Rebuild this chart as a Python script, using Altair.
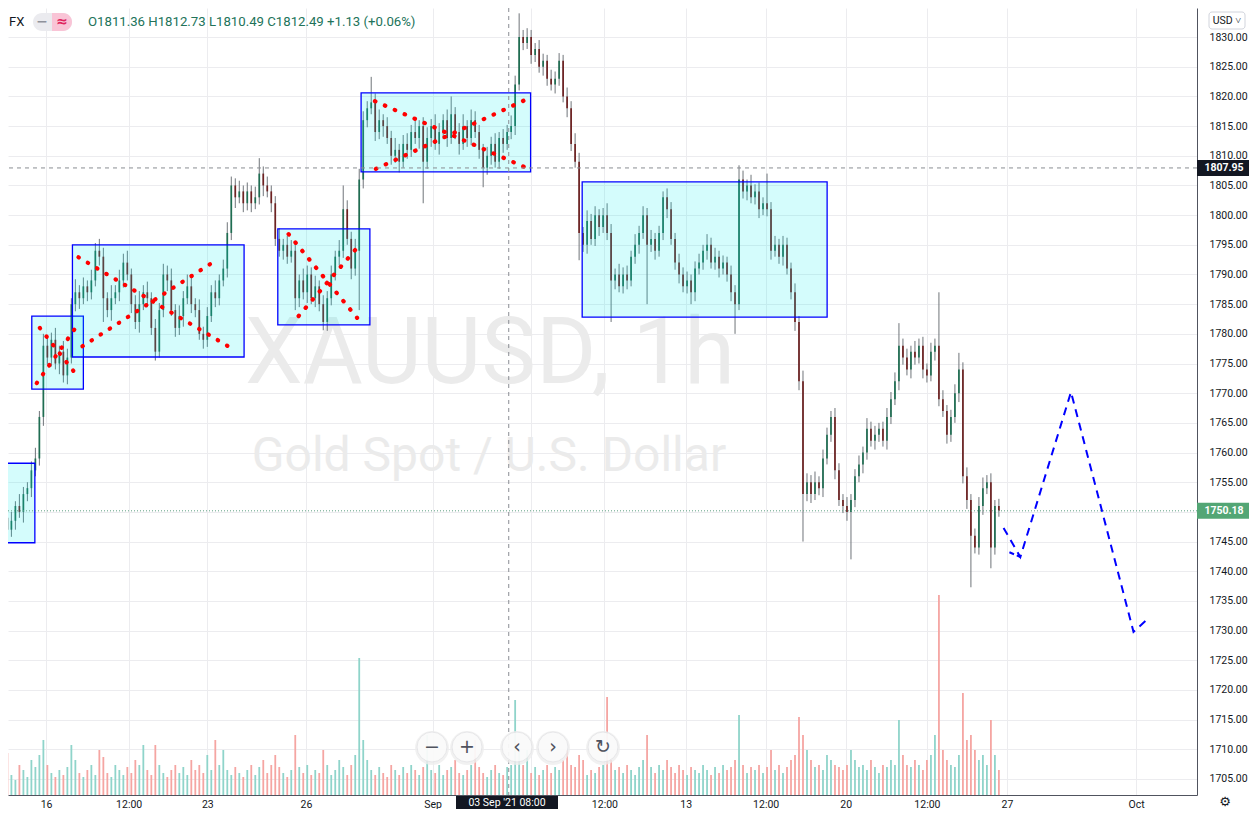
import altair as alt
import pandas as pd

# ---------------- data ----------------
T0 = -28          # time of first candle, trading hours since 16 Aug 00:00
STEP = 3          # hours per candle
first_open = 1749.0

closes = [
    1747, 1748.5, 1751, 1750, 1753, 1754, 1757, 1759, 1766, 1778,
    1776, 1779, 1775, 1777, 1773, 1776, 1785, 1787, 1786, 1788,
    1787, 1789, 1794, 1793, 1786, 1784, 1786, 1787, 1789, 1792,
    1790, 1785, 1782, 1785, 1787, 1786, 1781, 1777, 1784, 1790,
    1789, 1784, 1781, 1783, 1786, 1788, 1785, 1784, 1780, 1779,
    1783, 1787, 1786, 1789, 1791, 1797, 1805, 1803, 1804, 1802,
    1804, 1802, 1803, 1807, 1805, 1804, 1802, 1796, 1794, 1795,
    1793, 1794, 1786, 1789, 1787, 1790, 1786, 1788, 1785, 1782,
    1786, 1790, 1793, 1794, 1801, 1796, 1791, 1794, 1806, 1816,
    1818, 1819, 1814, 1816, 1815, 1813, 1810, 1811, 1809, 1812,
    1811, 1814, 1813, 1815, 1809, 1813, 1815, 1812, 1814, 1816,
    1813, 1817, 1814, 1812, 1815, 1813, 1816, 1814, 1811, 1808,
    1810, 1812, 1809, 1813, 1812, 1814, 1815, 1822, 1830, 1829,
    1830, 1827, 1828, 1825, 1826, 1823, 1822, 1823, 1826, 1820,
    1818, 1812, 1809, 1797, 1795, 1799, 1796, 1800, 1798, 1800,
    1797, 1789, 1790, 1788, 1790, 1789, 1793, 1795, 1797, 1800,
    1795, 1796, 1794, 1797, 1803, 1801, 1796, 1792, 1790, 1788,
    1789, 1787, 1791, 1792, 1794, 1795, 1792, 1793, 1791, 1792,
    1790, 1787, 1785, 1806, 1804, 1805, 1803, 1804, 1801, 1802,
    1801, 1794, 1795, 1793, 1795, 1791, 1787, 1782, 1772, 1753,
    1755, 1753, 1755, 1754, 1759, 1763, 1766, 1757, 1752, 1751,
    1750, 1752, 1756, 1758, 1760, 1764, 1762, 1763, 1764, 1762,
    1766, 1769, 1772, 1778, 1776, 1774, 1777, 1776, 1778, 1774,
    1773, 1777, 1778, 1769, 1767, 1763, 1766, 1770, 1774, 1756,
    1752, 1746, 1744, 1751, 1754, 1755, 1744, 1751, 1750.18,
]

wick_up = [
    1.0, 1.5, 0.8, 2.0, 1.2, 1.0, 1.5, 1.8, 1.0, 2.0,
    1.5, 1.2, 2.0, 1.0, 1.8, 1.5, 1.0, 2.2, 1.2, 1.5,
    1.0, 1.8, 1.3, 2.0, 1.5, 1.0, 2.2, 1.2, 1.8, 1.5,
    2.0, 1.0, 1.5, 2.2, 1.2, 1.8, 1.0, 1.5, 1.2, 1.8,
    1.5, 2.0, 1.0, 1.8, 1.2, 2.0, 1.5, 1.0, 1.8, 1.2,
    1.5, 1.2, 2.0, 1.0, 1.5, 1.8, 1.5, 1.2, 1.8, 1.0,
    1.5, 1.0, 1.8, 2.6, 1.2, 1.5, 1.0, 1.2, 1.8, 1.0,
    1.5, 1.8, 1.2, 1.0, 2.0, 1.5, 1.2, 1.8, 1.0, 1.5,
    1.2, 1.5, 1.0, 1.8, 4.0, 1.5, 1.2, 2.0, 1.8, 1.5,
    1.2, 4.3, 1.5, 1.8, 1.0, 1.5, 1.2, 2.0, 1.0, 1.5,
    1.8, 1.2, 2.2, 1.0, 1.5, 1.8, 1.2, 2.0, 1.5, 1.0,
    1.8, 3.0, 1.2, 1.5, 2.0, 1.0, 1.8, 1.5, 1.2, 1.0,
    1.5, 1.2, 1.8, 1.0, 1.5, 1.2, 1.8, 1.5, 4.0, 1.2,
    1.5, 1.2, 1.0, 1.5, 1.2, 1.0, 1.5, 1.2, 1.3, 1.0,
    1.5, 1.2, 1.8, 1.5, 1.0, 1.8, 1.2, 1.5, 1.0, 1.2,
    2.0, 1.5, 1.0, 1.8, 1.2, 1.5, 1.0, 1.8, 1.2, 1.5,
    1.2, 1.5, 1.0, 1.2, 1.0, 1.5, 1.2, 1.0, 1.5, 1.2,
    1.5, 1.0, 1.2, 1.5, 1.0, 1.8, 1.2, 1.5, 1.0, 1.2,
    1.0, 1.5, 1.2, 2.4, 1.5, 1.0, 1.8, 1.2, 1.5, 1.0,
    5.0, 1.2, 1.5, 1.0, 1.5, 1.2, 1.0, 1.5, 1.0, 1.8,
    1.5, 1.2, 1.8, 1.0, 1.5, 1.2, 1.0, 1.5, 1.2, 1.0,
    1.5, 1.0, 1.2, 1.5, 1.0, 1.8, 1.2, 1.5, 1.0, 1.2,
    1.5, 1.2, 1.5, 3.8, 1.2, 1.5, 1.0, 1.8, 1.2, 1.5,
    1.0, 1.5, 1.2, 9.0, 1.5, 1.0, 1.2, 1.5, 2.8, 1.2,
    1.5, 1.0, 1.2, 1.5, 1.8, 1.2, 1.5, 1.0, 1.2,
]

wick_dn = [
    5.0, 1.2, 1.5, 1.0, 1.8, 1.2, 1.5, 1.0, 1.2, 1.5,
    1.2, 1.5, 1.0, 1.8, 1.2, 1.5, 1.0, 1.2, 1.8, 1.0,
    1.5, 1.2, 1.0, 1.5, 4.0, 1.2, 1.8, 1.0, 1.5, 1.2,
    1.0, 1.5, 1.2, 1.8, 1.0, 1.5, 1.2, 1.5, 1.0, 1.2,
    1.8, 1.0, 1.5, 1.2, 1.8, 1.0, 1.5, 1.2, 1.0, 1.5,
    1.2, 1.0, 1.5, 1.2, 1.0, 1.5, 1.2, 1.8, 1.0, 1.5,
    1.2, 1.5, 1.0, 1.2, 1.8, 1.0, 1.5, 1.2, 1.0, 1.5,
    1.2, 1.0, 2.0, 1.5, 1.2, 1.8, 1.0, 1.5, 1.2, 1.4,
    1.5, 1.2, 1.0, 1.5, 1.2, 1.0, 1.8, 1.2, 10.0, 1.5,
    1.2, 1.0, 1.5, 1.2, 1.8, 1.0, 1.5, 1.2, 1.8, 1.0,
    1.5, 1.2, 1.0, 1.8, 7.0, 1.2, 1.5, 1.0, 1.8, 1.2,
    1.5, 1.0, 1.2, 1.8, 1.0, 1.5, 1.2, 1.0, 1.5, 3.3,
    1.2, 1.5, 1.0, 1.2, 1.5, 1.0, 1.2, 1.5, 1.0, 1.2,
    1.0, 1.5, 1.2, 1.0, 1.5, 1.2, 1.0, 1.5, 1.2, 1.0,
    1.5, 1.2, 1.0, 4.6, 1.2, 1.5, 1.0, 1.2, 1.5, 1.0,
    1.2, 7.0, 1.5, 1.0, 1.2, 1.5, 1.0, 1.2, 1.5, 1.0,
    10.0, 1.2, 1.5, 1.0, 1.2, 1.5, 1.0, 1.2, 1.5, 1.0,
    1.2, 2.0, 1.5, 1.0, 1.2, 1.5, 1.0, 1.2, 1.5, 1.0,
    1.2, 1.5, 5.0, 1.0, 1.2, 1.5, 1.0, 1.2, 1.5, 1.0,
    1.2, 1.5, 1.0, 1.2, 1.5, 1.0, 1.2, 1.5, 1.5, 8.0,
    1.2, 1.5, 1.0, 1.2, 1.5, 1.0, 1.2, 1.5, 1.0, 1.2,
    1.5, 8.0, 1.2, 1.0, 1.5, 1.2, 1.0, 1.5, 1.2, 1.0,
    1.5, 1.2, 1.0, 1.5, 1.2, 1.0, 1.5, 1.2, 1.0, 1.5,
    1.2, 1.0, 1.5, 1.2, 1.0, 1.5, 1.2, 1.0, 1.5, 1.2,
    1.5, 8.7, 1.0, 1.2, 1.5, 1.0, 3.5, 1.2, 1.0,
]

volumes = [
    42, 20, 15, 30, 25, 18, 35, 28, 40, 55,
    30, 22, 18, 25, 20, 28, 50, 35, 22, 18,
    25, 30, 20, 45, 38, 22, 18, 30, 25, 20,
    28, 22, 35, 30, 50, 25, 20, 50, 30, 22,
    18, 25, 30, 22, 28, 20, 35, 25, 30, 22,
    40, 25, 55, 30, 45, 25, 20, 28, 22, 18,
    25, 30, 20, 28, 35, 22, 30, 40, 28, 22,
    18, 25, 60, 28, 22, 30, 20, 25, 22, 45,
    30, 20, 25, 35, 28, 20, 30, 40, 137, 55,
    35, 25, 20, 28, 22, 18, 30, 25, 20, 28,
    22, 30, 25, 20, 28, 60, 25, 22, 30, 20,
    25, 28, 35, 22, 20, 25, 30, 55, 28, 22,
    18, 25, 30, 22, 20, 28, 30, 95, 45, 30,
    45, 22, 28, 20, 25, 30, 22, 28, 25, 35,
    45, 30, 28, 40, 35, 20, 25, 22, 28, 30,
    98, 35, 25, 28, 22, 30, 25, 20, 28, 35,
    60, 28, 22, 30, 25, 35, 28, 22, 30, 25,
    20, 28, 25, 22, 30, 25, 20, 28, 22, 30,
    25, 28, 35, 80, 30, 22, 28, 25, 30, 22,
    28, 45, 25, 30, 22, 28, 35, 40, 78, 60,
    45, 35, 28, 30, 25, 40, 35, 30, 28, 25,
    30, 45, 35, 28, 30, 25, 35, 28, 22, 30,
    28, 35, 30, 75, 40, 30, 28, 35, 30, 25,
    35, 40, 60, 200, 45, 35, 30, 28, 40, 102,
    55, 60, 45, 35, 40, 30, 75, 40, 25,
]

# x-axis ticks (trading hours) and their labels
tick_t = [1, 63, 122, 196, 291, 365, 420, 481, 541, 601, 662, 722, 819]
tick_labels = ["16", "12:00", "23", "26", "Sep", "", "12:00", "13", "12:00",
               "20", "12:00", "27", "Oct"]
price_ticks = [1705, 1710, 1715, 1720, 1725, 1730, 1735, 1740, 1745, 1750,
               1755, 1760, 1765, 1770, 1775, 1780, 1785, 1790, 1795, 1800,
               1805, 1810, 1815, 1820, 1825, 1830, 1835]

# consolidation boxes
box_t0 = [-40, -9.7, 20.8, 174.9, 237.4, 403.3]
box_t1 = [-7.4, 29.0, 149.6, 244.0, 364.6, 587.1]
box_top = [1758.2, 1783.0, 1795.0, 1797.7, 1820.6, 1805.6]
box_bot = [1744.8, 1770.7, 1776.1, 1781.5, 1807.3, 1782.8]

# red dotted crosses
cross_t0 = [-6.0, -3.7, 25.3, 28.3, 183.0, 190.5, 247.8, 248.5]
cross_p0 = [1771.7, 1781.0, 1792.9, 1777.9, 1796.8, 1783.0, 1819.2, 1807.8]
cross_t1 = [25.3, 23.8, 139.9, 126.5, 234.4, 237.4, 363.1, 362.4]
cross_p1 = [1781.7, 1773.1, 1777.6, 1792.1, 1782.7, 1795.3, 1807.8, 1819.6]

# blue dashed projection
proj_t = [719.5, 732.1, 770.1, 817.0, 825.9]
proj_p = [1747.3, 1742.4, 1770.2, 1729.8, 1731.6]
arrow_t = [723.9, 732.1]
arrow_p = [1743.2, 1742.4]

crosshair_t = 348.2
crosshair_price = 1807.95
last_price = 1750.18

header = "O1811.36  H1812.73  L1810.49  C1812.49  +1.13 (+0.06%)"

# ---------------- tables ----------------
opens = [first_open] + closes[:-1]
rows = []
for i, (o, c, u, d, v) in enumerate(zip(opens, closes, wick_up, wick_dn, volumes)):
    up = c >= o
    rows.append({
        "t": T0 + STEP * i, "o": o, "c": c,
        "h": max(o, c) + u, "l": min(o, c) - d, "v": v,
        "bc": "#1f6e52" if up else "#6e2222",
        "vc": "#8fd4ca" if up else "#f5a5a2",
    })
candles = pd.DataFrame(rows)
boxes = pd.DataFrame({"t0": box_t0, "t1": box_t1, "top": box_top, "bot": box_bot})
crosses = pd.DataFrame({"t0": cross_t0, "p0": cross_p0, "t1": cross_t1, "p1": cross_p1})
proj = pd.DataFrame({"t": proj_t, "p": proj_p, "k": list(range(len(proj_t)))})
arrow = pd.DataFrame({"t": arrow_t, "p": arrow_p, "k": [0, 1]})

XD = [-23.8, 860.9]
YD = [1702.3, 1834.9]
W, H = 1189, 787

label_expr = "".join(f"datum.value == {t} ? '{l}' : " for t, l in zip(tick_t, tick_labels)) + "''"

xs = alt.Scale(domain=XD, nice=False, zero=False)
ys = alt.Scale(domain=YD, nice=False, zero=False)

x_axis = alt.Axis(values=tick_t, labelExpr=label_expr, grid=True, gridColor="#ececef",
                  ticks=False, domainColor="#50535e", labelColor="#131722",
                  labelFont="Roboto", labelFontSize=10.5, labelPadding=4,
                  labelOverlap=False, labelFlush=False, title=None)
# the last-price tag covers the 1750.00 label
y_axis = alt.Axis(values=price_ticks, format=".2f", orient="right", grid=True,
                  gridColor="#ececef", ticks=False, domainColor="#50535e",
                  labelColor="#131722", labelFont="Roboto", labelFontSize=10.5,
                  labelPadding=12, labelOverlap=False, labelFlush=False,
                  labelSeparation=0, title=None,
                  labelExpr=f"abs(datum.value - {last_price}) < 1.5 ? '' : datum.label")

def X(f):
    return alt.X(f, type="quantitative", scale=xs, axis=x_axis)

def Y(f):
    return alt.Y(f, type="quantitative", scale=ys, axis=y_axis)

one = pd.DataFrame({"a": [0]})

# watermark
wm1 = alt.Chart(pd.DataFrame({"s": ["XAUUSD, 1h"]})).mark_text(
    font="Roboto", fontSize=92, color="#ebebeb", align="center", baseline="middle"
).encode(x=alt.value(482), y=alt.value(347), text="s:N")
wm2 = alt.Chart(pd.DataFrame({"s": ["Gold Spot / U.S. Dollar"]})).mark_text(
    font="Roboto", fontSize=48, color="#ebebeb", align="center", baseline="middle"
).encode(x=alt.value(481), y=alt.value(449), text="s:N")

wick = alt.Chart(candles).mark_rule(color="#6f7479", strokeWidth=1, clip=True).encode(
    x=X("t"), y=Y("l"), y2="h")
body = alt.Chart(candles).mark_rule(strokeWidth=1.7, clip=True).encode(
    x=X("t"), y=Y("o"), y2="c", color=alt.Color("bc:N", scale=None))

box_layer = alt.Chart(boxes).mark_rect(fill="#00f0f0", fillOpacity=0.17, stroke="#0000ff",
                                       strokeWidth=1.3, clip=True).encode(
    x=X("t0"), x2="t1", y=Y("top"), y2="bot")

cross_layer = alt.Chart(crosses).mark_rule(color="#ff0000", strokeWidth=4.2, strokeCap="round",
                                           strokeDash=[0.5, 10.3], clip=True).encode(
    x=X("t0"), x2="t1", y=Y("p0"), y2="p1")

vline = alt.Chart(pd.DataFrame({"t": [crosshair_t]})).mark_rule(
    color="#8a8d93", strokeDash=[4, 4], strokeWidth=1).encode(x=X("t"))
hline = alt.Chart(pd.DataFrame({"p": [crosshair_price]})).mark_rule(
    color="#8a8d93", strokeDash=[4, 4], strokeWidth=1).encode(y=Y("p"))
lastline = alt.Chart(pd.DataFrame({"p": [last_price]})).mark_rule(
    color="#5c9e80", strokeDash=[1, 2], strokeWidth=1).encode(y=Y("p"))

proj_layer = alt.Chart(proj).mark_line(color="#0000ff", strokeWidth=2, strokeDash=[8, 6],
                                       clip=False).encode(x=X("t"), y=Y("p"), order="k:Q")
arrow_layer = alt.Chart(arrow).mark_line(color="#0000ff", strokeWidth=2, strokeDash=[5, 3]).encode(
    x=X("t"), y=Y("p"), order="k:Q")

# price tags on the right axis
tags = pd.DataFrame({"p": [crosshair_price, last_price],
                     "s": [f"{crosshair_price:.2f}", f"{last_price:.2f}"],
                     "col": ["#131722", "#53a675"]})
tag_bg = alt.Chart(tags).mark_rule(strokeWidth=16, clip=False).encode(
    y=Y("p"), x=alt.value(W), x2=alt.value(W + 52), color=alt.Color("col:N", scale=None))
tag_tx = alt.Chart(tags).mark_text(color="white", font="Roboto", fontSize=10.5,
                                   fontWeight="bold", align="center", baseline="middle").encode(
    y=Y("p"), x=alt.value(W + 27), text="s:N")

price_part = alt.layer(wm1, wm2, wick, body, box_layer, cross_layer, vline, hline, lastline,
                       proj_layer, arrow_layer, tag_bg, tag_tx)

vol = alt.Chart(candles).mark_bar(size=1.8, clip=True).encode(
    x=X("t"),
    y=alt.Y("v:Q", scale=alt.Scale(domain=[0, 787], nice=False), axis=None),
    color=alt.Color("vc:N", scale=None))

# ------------- interface decorations -------------
btn = pd.DataFrame({"bx": [424, 459, 509, 545, 595], "g": ["−", "+", "‹", "›", "↻"]})
btn_shadow = alt.Chart(btn).mark_point(filled=True, size=1150, color="#eeeeee", opacity=0.8,
                                       shape="circle").encode(x=alt.X("bx:Q", scale=None), y=alt.value(740))
btn_circ = alt.Chart(btn).mark_point(filled=True, size=900, color="white", shape="circle",
                                     stroke="#e3e3e6", strokeWidth=1).encode(
    x=alt.X("bx:Q", scale=None), y=alt.value(739))
btn_txt = alt.Chart(btn).mark_text(font="DejaVu Sans", fontSize=19, color="#50535e",
                                   align="center", baseline="middle").encode(
    x=alt.X("bx:Q", scale=None), y=alt.value(739), text="g:N")

pill_g = alt.Chart(one).mark_rect(color="#ebebef", cornerRadius=9).encode(
    x=alt.value(25), x2=alt.value(64), y=alt.value(5), y2=alt.value(23))
pill_p = alt.Chart(one).mark_rect(color="#f9c4d6", cornerRadius=9).encode(
    x=alt.value(44), x2=alt.value(64), y=alt.value(5), y2=alt.value(23))
pill_p2 = alt.Chart(one).mark_rect(color="#f9c4d6").encode(
    x=alt.value(44), x2=alt.value(54), y=alt.value(5), y2=alt.value(23))
pill_t = alt.Chart(pd.DataFrame({"px": [34, 54], "g": ["−", "≈"], "c": ["#8f929b", "#e0245e"]})).mark_text(
    font="DejaVu Sans", fontSize=14, fontWeight="bold", align="center", baseline="middle").encode(
    x=alt.X("px:Q", scale=None), y=alt.value(14), text="g:N", color=alt.Color("c:N", scale=None))
fx = alt.Chart(pd.DataFrame({"s": ["FX"]})).mark_text(
    font="Roboto", fontSize=13, color="#131722", align="left", baseline="middle").encode(
    x=alt.value(1), y=alt.value(14), text="s:N")
head = alt.Chart(pd.DataFrame({"s": [header]})).mark_text(
    font="Roboto", fontSize=13.2, color="#22735a", align="left", baseline="middle").encode(
    x=alt.value(80), y=alt.value(14), text="s:N")

date_bg = alt.Chart(one).mark_rect(color="#131722").encode(
    x=alt.value(448), x2=alt.value(550), y=alt.value(788), y2=alt.value(812))
date_tx = alt.Chart(pd.DataFrame({"s": ["03 Sep '21  08:00"]})).mark_text(
    font="Roboto", fontSize=10.5, color="white", align="center", baseline="middle").encode(
    x=alt.value(499), y=alt.value(794.5), text="s:N")

usd_bg = alt.Chart(one).mark_rect(fill="white", stroke="#d1d4dc", cornerRadius=3).encode(
    x=alt.value(W + 12), x2=alt.value(W + 48), y=alt.value(4), y2=alt.value(21))
usd_tx = alt.Chart(pd.DataFrame({"s": ["USD ˅"]})).mark_text(
    font="Roboto", fontSize=10.5, color="#131722", align="center", baseline="middle").encode(
    x=alt.value(W + 30), y=alt.value(13), text="s:N")
gear = alt.Chart(pd.DataFrame({"s": ["⚙"]})).mark_text(
    font="DejaVu Sans", fontSize=13, color="#131722", align="center", baseline="middle").encode(
    x=alt.value(W + 28), y=alt.value(793.5), text="s:N")

deco = alt.layer(btn_shadow, btn_circ, btn_txt, pill_g, pill_p, pill_p2, pill_t, fx, head,
                 date_bg, date_tx, usd_bg, usd_tx, gear)

chart = alt.layer(vol, price_part, deco).resolve_scale(y="independent").properties(
    width=W, height=H,
    autosize=alt.AutoSizeParams(type="none"),
    padding={"left": 0, "top": 0, "right": 53, "bottom": 14},
    background="white",
).configure_view(strokeWidth=0).configure_axis(labelOverlap=False)

chart.save("out.html", embed_options={"renderer": "svg", "actions": False})
